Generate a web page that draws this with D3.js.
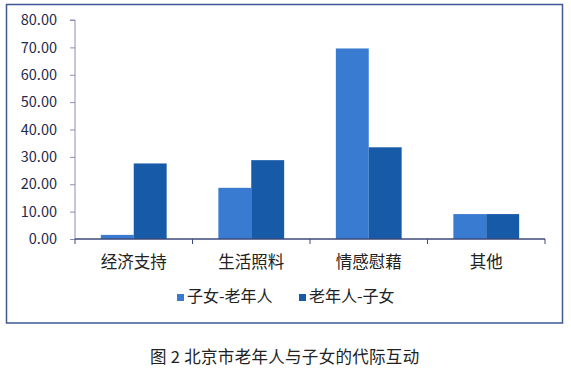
<!DOCTYPE html>
<html><head><meta charset="utf-8">
<script src="https://cdn.jsdelivr.net/npm/d3@7"></script>
<style>body{margin:0;background:#fff;}svg{display:block;}</style>
</head><body>
<svg id="c" width="571" height="379"></svg>
<script>
const categories = ["经济支持", "生活照料", "情感慰藉", "其他"];
const seriesNames = ["子女-老年人", "老年人-子女"];
const childToElder = [1.5, 18.7, 69.6, 9.1];
const elderToChild = [27.6, 28.8, 33.5, 9.1];
const yTicks = [0, 10, 20, 30, 40, 50, 60, 70, 80];
const colors = ["#3a7bd2", "#175aa8"];
const caption = "图 2 北京市老年人与子女的代际互动";

(function () {
const svg = d3.select("#c");
const font = "'Noto Sans CJK SC', 'Noto Sans', sans-serif";

svg.append("rect").attr("x", 6.5).attr("y", 4.5).attr("width", 556).attr("height", 318.5)
  .attr("fill", "#fff").attr("stroke", "#3d5894").attr("stroke-width", 1.5);

const pLeft = 75, pRight = 545, pTop = 20, pBottom = 239;
const x0 = d3.scaleBand().domain(categories).range([pLeft, pRight]).padding(0);
const x1 = d3.scaleBand().domain([0, 1]).range([0, x0.bandwidth() * 0.56]);
const y = d3.scaleLinear().domain([0, 80]).range([pBottom, pTop]);

const data = categories.map((c, i) => ({c, v: [childToElder[i], elderToChild[i]]}));

const grp = svg.append("g").selectAll("g.cat").data(data).join("g")
  .attr("transform", d => `translate(${x0(d.c) + x0.bandwidth() * 0.22},0)`);
grp.selectAll("rect").data(d => d.v.map((v, k) => ({v, k}))).join("rect")
  .attr("x", d => x1(d.k)).attr("width", x1.bandwidth())
  .attr("y", d => y(d.v)).attr("height", d => y(0) - y(d.v))
  .attr("fill", d => colors[d.k]);

const yAxis = d3.axisLeft(y).tickValues(yTicks).tickFormat(d3.format(".2f")).tickSize(5).tickPadding(13);
const ya = svg.append("g").attr("transform", `translate(${pLeft},0)`).call(yAxis);
ya.select(".domain").attr("stroke", "#8c8fb3").attr("d", `M-5,${pTop}H0V${pBottom}`);
ya.selectAll(".tick line").attr("stroke", "#8c8fb3");
ya.selectAll(".tick text").attr("fill", "#1d2b4f").style("font-family", font).style("font-size", "14.5px");

const xa = svg.append("g").attr("transform", `translate(0,${pBottom})`);
xa.append("line").attr("x1", pLeft).attr("x2", pRight).attr("stroke", "#3d4a7a").attr("stroke-width", 1.3);
const bounds = categories.map(c => x0(c)).concat([pRight]);
xa.selectAll("line.t").data(bounds).join("line").attr("class", "t")
  .attr("x1", d => d).attr("x2", d => d).attr("y1", 0).attr("y2", 5).attr("stroke", "#3d4a7a");
xa.selectAll("text").data(categories).join("text")
  .attr("x", d => x0(d) + x0.bandwidth() / 2).attr("y", 29)
  .attr("text-anchor", "middle").attr("fill", "#222")
  .style("font-family", font).style("font-size", "16.5px").text(d => d);

const legX = [177, 299];
const leg = svg.append("g");
seriesNames.forEach((n, i) => {
  leg.append("rect").attr("x", legX[i]).attr("y", 294).attr("width", 7).attr("height", 7).attr("fill", colors[i]);
  leg.append("text").attr("x", legX[i] + 10).attr("y", 302).attr("fill", "#222")
    .style("font-family", font).style("font-size", "16px").text(n);
});

svg.append("text").attr("x", 150).attr("y", 363).attr("fill", "#222")
  .style("font-family", font).style("font-size", "16.5px").style("letter-spacing", "0.3px").text(caption);
})();
</script>
</body></html>
